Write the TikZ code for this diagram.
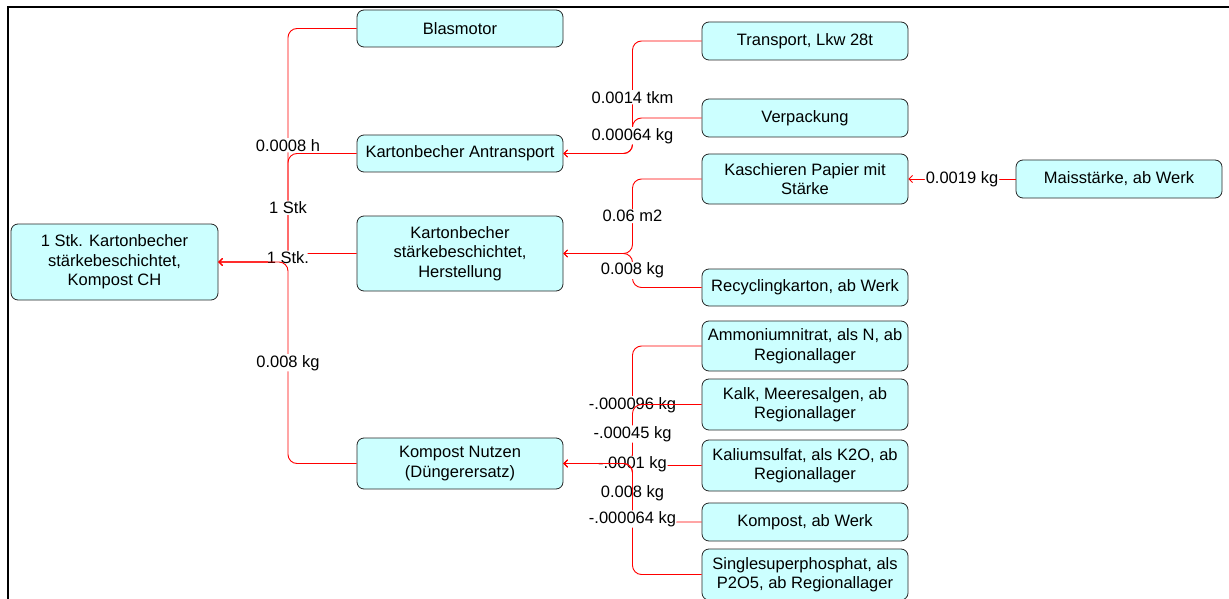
\documentclass[tikz,border=0pt]{standalone}
\usepackage{fontspec}
\setmainfont{Liberation Sans}
\usetikzlibrary{arrows.meta,calc}
\definecolor{boxfill}{HTML}{CCFFFF}
\newcommand\boxfont{\fontsize{16.5}{19.5}\selectfont}
\begin{document}
\begin{tikzpicture}[x=1pt,y=-1pt,
  box/.style={draw=black!85, line width=0.8pt, fill=boxfill, rounded corners=7pt,
    minimum width=206pt, inner sep=0pt, align=center, font=\boxfont},
  edge/.style={draw=red, line width=0.9pt, rounded corners=9pt,
    -{Straight Barb[length=3.5pt,width=7pt]}},
  lbl/.style={fill=white, inner sep=1pt, font=\boxfont}]
\useasboundingbox (0,0) rectangle (1229,599);
% frame
\draw[line width=2.6pt] (8,600) -- (8,7) -- (1229,7);
% bus coordinates
\coordinate (b1) at (288,0);
\coordinate (b2) at (632.5,0);
\coordinate (b3) at (962,0);
% nodes
\node[box, minimum width=207pt, minimum height=76pt] (root) at (114.5,262) {1 Stk. Kartonbecher\\stärkebeschichtet,\\Kompost CH};
\node[box, minimum height=37pt] (blas) at (460,28.5) {Blasmotor};
\node[box, minimum height=37pt] (antr) at (460,153.5) {Kartonbecher Antransport};
\node[box, minimum height=75pt] (herst) at (460,253.5) {Kartonbecher\\stärkebeschichtet,\\Herstellung};
\node[box, minimum height=51pt] (kompn) at (460,463.5) {Kompost Nutzen\\(Düngerersatz)};
\node[box, minimum height=38pt] (trans) at (805,41) {Transport, Lkw 28t};
\node[box, minimum height=38pt] (verp) at (805,118) {Verpackung};
\node[box, minimum height=50pt] (kasch) at (805,179) {Kaschieren Papier mit\\Stärke};
\node[box, minimum height=38pt] (mais) at (1119,179) {Maisstärke, ab Werk};
\node[box, minimum height=37pt] (recy) at (805,287.5) {Recyclingkarton, ab Werk};
\node[box, minimum height=50pt] (ammo) at (805,346) {Ammoniumnitrat, als N, ab\\Regionallager};
\node[box, minimum height=51pt] (kalk) at (805,404.5) {Kalk, Meeresalgen, ab\\Regionallager};
\node[box, minimum height=51pt] (kali) at (805,465.5) {Kaliumsulfat, als K2O, ab\\Regionallager};
\node[box, minimum height=38pt] (komp) at (805,522) {Kompost, ab Werk};
\node[box, minimum height=51pt] (ssp) at (805,574.5) {Singlesuperphosphat, als\\P2O5, ab Regionallager};
% edges level 1
\draw[edge] (blas.west) -- (blas.west -| b1) -- (root.east -| b1) node[lbl,midway]{0.0008 h} -- (root.east);
\draw[edge] (antr.west) -- (antr.west -| b1) -- (root.east -| b1) node[lbl,midway]{1 Stk} -- (root.east);
\draw[edge] (herst.west) -- (herst.west -| b1) -- (root.east -| b1) node[lbl,midway]{1 Stk.} -- (root.east);
\draw[edge] (kompn.west) -- (kompn.west -| b1) -- (root.east -| b1) node[lbl,midway]{0.008 kg} -- (root.east);
% edges level 2
\draw[edge] (trans.west) -- (trans.west -| b2) -- (antr.east -| b2) node[lbl,midway]{0.0014 tkm} -- (antr.east);
\draw[edge] (verp.west) -- (verp.west -| b2) -- (antr.east -| b2) node[lbl,midway]{0.00064 kg} -- (antr.east);
\draw[edge] (kasch.west) -- (kasch.west -| b2) -- (herst.east -| b2) node[lbl,midway]{0.06 m2} -- (herst.east);
\draw[edge] (recy.west) -- (recy.west -| b2) -- (herst.east -| b2) node[lbl,midway]{0.008 kg} -- (herst.east);
\draw[edge] (ammo.west) -- (ammo.west -| b2) -- (kompn.east -| b2) node[lbl,midway]{-.000096 kg} -- (kompn.east);
\draw[edge] (kalk.west) -- (kalk.west -| b2) -- (kompn.east -| b2) node[lbl,midway]{-.00045 kg} -- (kompn.east);
\draw[edge] (kali.west) -- (kali.west -| b2) -- (kompn.east -| b2) node[lbl,midway]{-.0001 kg} -- (kompn.east);
\draw[edge] (komp.west) -- (komp.west -| b2) -- (kompn.east -| b2) node[lbl,midway]{0.008 kg} -- (kompn.east);
\draw[edge] (ssp.west) -- (ssp.west -| b2) -- (kompn.east -| b2) node[lbl,midway]{-.000064 kg} -- (kompn.east);
% edge level 3
\draw[edge] (mais.west) -- (kasch.east) node[lbl,midway]{0.0019 kg};
\end{tikzpicture}
\end{document}
